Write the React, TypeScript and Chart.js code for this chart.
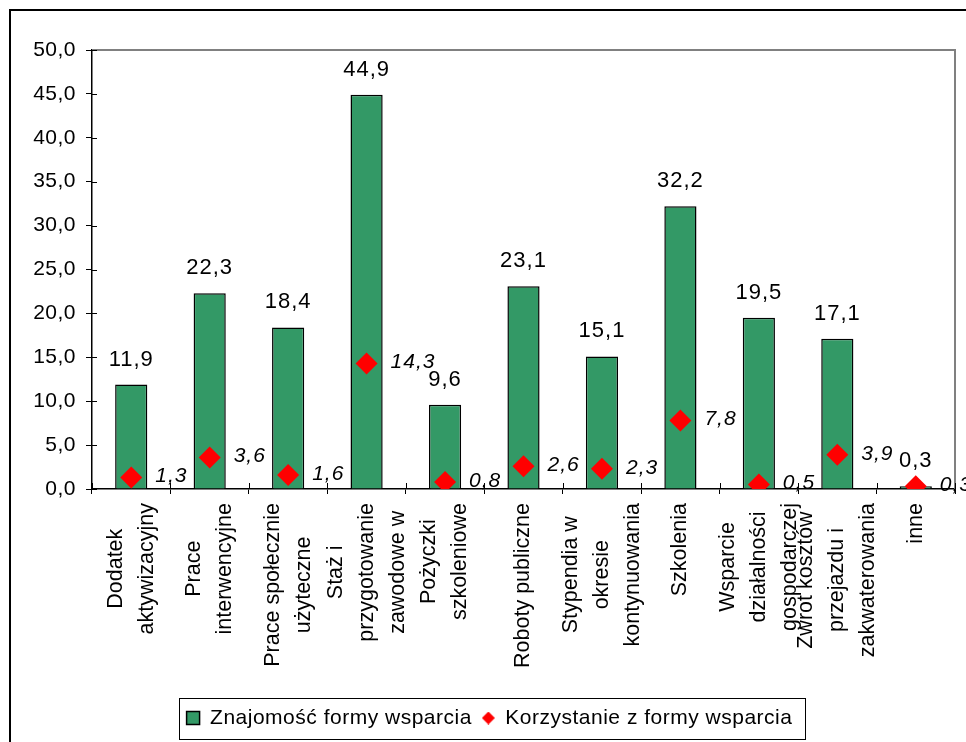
import React, { useEffect, useRef } from 'react';
import { Chart, registerables } from 'chart.js';

Chart.register(...registerables);

// ---- data ----
const categories: string[][] = [
  ['Dodatek', 'aktywizacyjny'],
  ['Prace', 'interwencyjne'],
  ['Prace społecznie', 'użyteczne'],
  ['Staż i', 'przygotowanie', 'zawodowe w'],
  ['Pożyczki', 'szkoleniowe'],
  ['Roboty publiczne'],
  ['Stypendia w', 'okresie', 'kontynuowania'],
  ['Szkolenia'],
  ['Wsparcie', 'działalności', 'gospodarczej'],
  ['Zwrot kosztów', 'przejazdu i', 'zakwaterowania'],
  ['inne'],
];
const znajomosc: number[] = [11.9, 22.3, 18.4, 44.9, 9.6, 23.1, 15.1, 32.2, 19.5, 17.1, 0.3];
const korzystanie: number[] = [1.3, 3.6, 1.6, 14.3, 0.8, 2.6, 2.3, 7.8, 0.5, 3.9, 0.3];
const seriesNames: string[] = ['Znajomość formy wsparcia', 'Korzystanie z formy wsparcia'];
const yMin = 0;
const yMax = 50;
const yStep = 5;

const GREEN = '#339966';
const RED = '#ff0000';
const FONT = '"Liberation Sans", Arial, sans-serif';

const fmt = (v: number) => v.toFixed(1).replace('.', ',');

function diamondCanvas(size: number, color: string) {
  const c = document.createElement('canvas');
  c.width = size;
  c.height = size;
  const x = c.getContext('2d')!;
  x.fillStyle = color;
  x.beginPath();
  x.moveTo(size / 2, 0);
  x.lineTo(size, size / 2);
  x.lineTo(size / 2, size);
  x.lineTo(0, size / 2);
  x.closePath();
  x.fill();
  return c;
}

const decor = {
  id: 'decor',
  beforeLayout(chart: any) {
    chart.ctx.letterSpacing = '0.5px';
  },
  beforeDraw(chart: any) {
    chart.ctx.letterSpacing = '0.5px';
  },
  beforeDatasetsDraw(chart: any) {
    const { ctx, chartArea: a } = chart;
    ctx.save();
    ctx.strokeStyle = '#808080';
    ctx.lineWidth = 2;
    ctx.beginPath();
    ctx.moveTo(a.left, a.top);
    ctx.lineTo(a.right, a.top);
    ctx.lineTo(a.right, a.bottom);
    ctx.stroke();
    ctx.restore();
  },
  afterDatasetsDraw(chart: any) {
    const { ctx } = chart;
    ctx.save();
    ctx.fillStyle = '#000';
    ctx.letterSpacing = '1px';
    // bar value labels
    const barMeta = chart.getDatasetMeta(0);
    ctx.font = `22px ${FONT}`;
    ctx.textAlign = 'center';
    ctx.textBaseline = 'alphabetic';
    barMeta.data.forEach((el: any, i: number) => {
      ctx.fillText(fmt(znajomosc[i]), el.x, el.y - 19);
    });
    // point value labels
    const lineMeta = chart.getDatasetMeta(1);
    ctx.font = `italic 21px ${FONT}`;
    ctx.textAlign = 'left';
    ctx.textBaseline = 'middle';
    lineMeta.data.forEach((el: any, i: number) => {
      ctx.fillText(fmt(korzystanie[i]), el.x + 24, el.y - 1);
    });
    ctx.restore();
  },
  afterDraw(chart: any) {
    const { ctx, chartArea: a } = chart;
    const xs = chart.scales.x;
    const ys = chart.scales.y;
    ctx.save();
    // inner parts of cross tick marks
    ctx.strokeStyle = '#000';
    ctx.lineWidth = 1;
    const n = categories.length;
    for (let i = 0; i <= n; i++) {
      const x = Math.round(xs.left + (i * xs.width) / n) + 0.5;
      ctx.beginPath();
      ctx.moveTo(x, a.bottom);
      ctx.lineTo(x, a.bottom - 6);
      ctx.stroke();
    }
    for (let v = yMin; v <= yMax; v += yStep) {
      const y = Math.round(ys.getPixelForValue(v)) + 0.5;
      ctx.beginPath();
      ctx.moveTo(a.left, y);
      ctx.lineTo(a.left + 5, y);
      ctx.stroke();
    }
    // x category labels (rotated, multi-line, centred)
    ctx.letterSpacing = '0px';
    ctx.font = `21.5px ${FONT}`;
    ctx.fillStyle = '#000';
    ctx.textAlign = 'center';
    ctx.textBaseline = 'middle';
    const lineGap = 31;
    categories.forEach((lines, i) => {
      const cx = xs.getPixelForValue(i);
      const maxW = Math.max(...lines.map((l) => ctx.measureText(l).width));
      const cy = a.bottom + 14 + maxW / 2;
      lines.forEach((l, j) => {
        const lx = cx + (j - (lines.length - 1) / 2) * lineGap;
        ctx.save();
        ctx.translate(lx, cy);
        ctx.rotate(-Math.PI / 2);
        ctx.fillText(l, 0, 0);
        ctx.restore();
      });
    });
    // legend box
    const lg = chart.legend;
    if (lg && lg.legendHitBoxes && lg.legendHitBoxes.length) {
      const hb = lg.legendHitBoxes;
      const l = Math.min(...hb.map((h: any) => h.left)) - 8;
      const r = Math.max(...hb.map((h: any) => h.left + h.width)) + 12;
      const t = Math.min(...hb.map((h: any) => h.top)) - 9.5;
      const b = Math.max(...hb.map((h: any) => h.top + h.height)) + 10.5;
      ctx.strokeStyle = '#000';
      ctx.lineWidth = 1;
      ctx.strokeRect(Math.round(l) + 0.5, Math.round(t) + 0.5, Math.round(r - l), Math.round(b - t));
    }
    // outer frame (left + top)
    ctx.strokeStyle = '#000';
    ctx.lineWidth = 2;
    ctx.beginPath();
    ctx.moveTo(10, chart.height);
    ctx.lineTo(10, 10);
    ctx.lineTo(chart.width, 10);
    ctx.stroke();
    ctx.restore();
  },
};

export default function App() {
  const ref = useRef<HTMLCanvasElement | null>(null);

  useEffect(() => {
    if (!ref.current) return;
    const diamond = diamondCanvas(13, RED);
    const chart = new Chart(ref.current, {
      type: 'bar',
      data: {
        labels: categories.map((c) => c.join(' ')),
        datasets: [
          {
            type: 'bar',
            label: seriesNames[0],
            data: znajomosc,
            backgroundColor: GREEN,
            borderColor: '#000',
            borderWidth: 1.5,
            barPercentage: 0.41,
            categoryPercentage: 1,
            order: 1,
          } as any,
          {
            type: 'line',
            label: seriesNames[1],
            data: korzystanie,
            showLine: false,
            pointStyle: 'rectRot',
            pointRadius: 11,
            pointHoverRadius: 11,
            pointBackgroundColor: RED,
            pointBorderColor: RED,
            pointBorderWidth: 0,
            backgroundColor: RED,
            borderColor: RED,
            order: 0,
          } as any,
        ],
      },
      options: {
        animation: false,
        responsive: false,
        devicePixelRatio: 1,
        layout: { padding: { left: 24, top: 50, right: 11, bottom: 3.5 } },
        plugins: {
          tooltip: { enabled: false },
          title: { display: false },
          legend: {
            display: true,
            position: 'bottom',
            labels: {
              usePointStyle: true,
              boxWidth: 13,
              boxHeight: 13,
              padding: 10,
              color: '#000',
              font: { family: FONT, size: 21 },
              generateLabels: (ch: any) => {
                const items = (Chart.defaults.plugins.legend.labels as any).generateLabels(ch);
                items.forEach((it: any) => {
                  if (it.datasetIndex === 0) {
                    it.pointStyle = 'rect';
                    it.fillStyle = GREEN;
                    it.strokeStyle = '#000';
                    it.lineWidth = 1.5;
                  } else {
                    it.pointStyle = diamond;
                  }
                });
                return items.sort((a: any, b: any) => a.datasetIndex - b.datasetIndex);
              },
            },
          },
        },
        scales: {
          x: {
            type: 'category',
            offset: true,
            grid: {
              offset: true,
              drawOnChartArea: false,
              drawTicks: true,
              tickLength: 5,
              color: '#000',
              lineWidth: 1,
            },
            border: { display: true, color: '#000', width: 1.5 },
            ticks: { display: false },
            afterFit: (s: any) => {
              s.height = 208.5;
            },
          },
          y: {
            min: yMin,
            max: yMax,
            grid: {
              drawOnChartArea: false,
              drawTicks: true,
              tickLength: 6,
              color: '#000',
              lineWidth: 1,
            },
            border: { display: true, color: '#000', width: 1.5 },
            ticks: {
              stepSize: yStep,
              color: '#000',
              padding: 10,
              font: { family: FONT, size: 21 },
              callback: (v: any) => fmt(Number(v)),
            },
            afterFit: (s: any) => {
              s.width = 68;
            },
          },
        },
      } as any,
      plugins: [decor],
    });
    return () => chart.destroy();
  }, []);

  return (
    <div style={{ position: 'fixed', left: 0, top: 0, width: 966, height: 742, background: '#fff' }}>
      <canvas ref={ref} width={966} height={742} style={{ display: 'block' }} />
    </div>
  );
}
